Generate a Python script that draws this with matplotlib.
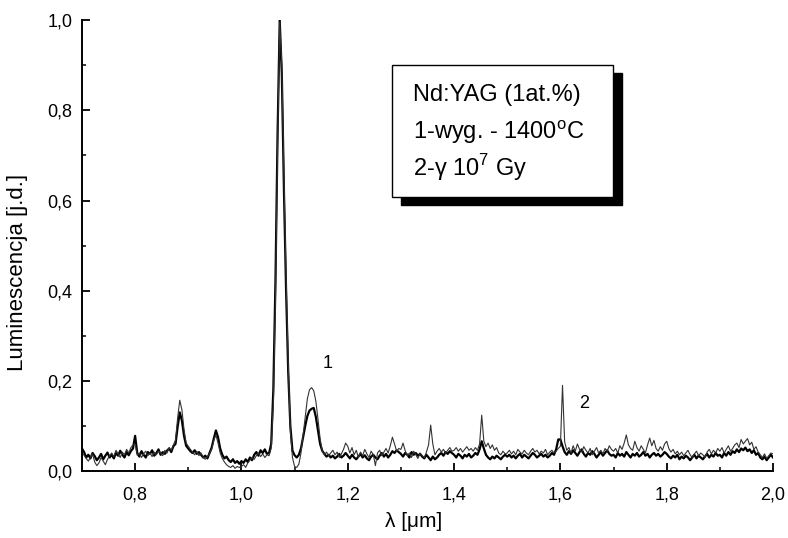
import numpy as np
import matplotlib
matplotlib.use("Agg")
import matplotlib.pyplot as plt
from matplotlib.patches import Rectangle
from matplotlib.ticker import MultipleLocator, FuncFormatter

plt.rcParams['font.family'] = ['Liberation Sans', 'DejaVu Sans']
plt.rcParams['mathtext.fontset'] = 'custom'
plt.rcParams['mathtext.rm'] = 'Liberation Sans'

# wavelength grid, 0.70 .. 2.00 um, step 0.004 (326 points)
lam = np.linspace(0.7, 2.0, 326)

# curve - thicker dark line
gruba = [
    0.050, 0.042, 0.030, 0.036, 0.028, 0.040, 0.033, 0.024, 0.030, 0.038, 0.026, 0.034, 0.041,
    0.030, 0.036, 0.028, 0.040, 0.034, 0.045, 0.036, 0.030, 0.042, 0.035, 0.044, 0.050,
    0.078, 0.040, 0.032, 0.044, 0.036, 0.030, 0.042, 0.038, 0.046, 0.034, 0.040, 0.048, 0.036,
    0.042, 0.038, 0.045, 0.050, 0.042, 0.055, 0.060, 0.098, 0.130, 0.112, 0.078, 0.056,
    0.050, 0.044, 0.040, 0.046, 0.038, 0.042, 0.036, 0.030, 0.034, 0.028, 0.040, 0.052, 0.072,
    0.090, 0.075, 0.050, 0.036, 0.028, 0.032, 0.024, 0.020, 0.026, 0.018, 0.022, 0.016,
    0.022, 0.018, 0.026, 0.020, 0.030, 0.024, 0.036, 0.042, 0.034, 0.046, 0.040, 0.048, 0.038,
    0.040, 0.060, 0.180, 0.420, 0.750, 1.000, 0.880, 0.620, 0.400, 0.220, 0.100, 0.045,
    0.035, 0.030, 0.036, 0.050, 0.075, 0.100, 0.122, 0.134, 0.138, 0.140, 0.120, 0.090, 0.060,
    0.045, 0.038, 0.032, 0.036, 0.030, 0.034, 0.028, 0.032, 0.038, 0.030, 0.034, 0.040,
    0.034, 0.028, 0.036, 0.030, 0.026, 0.032, 0.038, 0.030, 0.035, 0.028, 0.024, 0.032, 0.036,
    0.030, 0.026, 0.034, 0.040, 0.032, 0.038, 0.030, 0.036, 0.044, 0.040, 0.046, 0.042,
    0.038, 0.032, 0.040, 0.036, 0.030, 0.042, 0.036, 0.040, 0.034, 0.038, 0.032, 0.028, 0.036,
    0.030, 0.024, 0.032, 0.026, 0.030, 0.036, 0.040, 0.034, 0.042, 0.038, 0.044, 0.040,
    0.036, 0.030, 0.038, 0.034, 0.028, 0.036, 0.032, 0.038, 0.030, 0.034, 0.040, 0.036, 0.048,
    0.066, 0.050, 0.036, 0.030, 0.026, 0.032, 0.028, 0.034, 0.030, 0.026, 0.032, 0.036,
    0.032, 0.036, 0.030, 0.034, 0.028, 0.034, 0.038, 0.030, 0.036, 0.032, 0.028, 0.034, 0.040,
    0.036, 0.030, 0.034, 0.038, 0.032, 0.036, 0.030, 0.034, 0.040, 0.036, 0.048, 0.070,
    0.070, 0.055, 0.042, 0.036, 0.044, 0.038, 0.046, 0.040, 0.034, 0.042, 0.048, 0.038, 0.032,
    0.040, 0.036, 0.044, 0.038, 0.030, 0.036, 0.042, 0.034, 0.040, 0.046, 0.038, 0.034,
    0.036, 0.030, 0.040, 0.034, 0.038, 0.032, 0.042, 0.036, 0.030, 0.038, 0.034, 0.040, 0.032,
    0.036, 0.042, 0.034, 0.038, 0.030, 0.036, 0.040, 0.034, 0.038, 0.032, 0.036, 0.042,
    0.038, 0.032, 0.028, 0.034, 0.030, 0.036, 0.026, 0.032, 0.028, 0.034, 0.030, 0.024, 0.030,
    0.036, 0.028, 0.034, 0.030, 0.026, 0.032, 0.038, 0.030, 0.036, 0.032, 0.040, 0.034,
    0.036, 0.030, 0.040, 0.034, 0.042, 0.036, 0.044, 0.040, 0.048, 0.042, 0.050, 0.046, 0.052,
    0.044, 0.048, 0.040, 0.046, 0.036, 0.040, 0.030, 0.026, 0.032, 0.024, 0.030, 0.036,
    0.030,
]

# second curve - thin line
cienka = [
    0.040, 0.035, 0.028, 0.022, 0.030, 0.038, 0.020, 0.012, 0.018, 0.030, 0.022, 0.014, 0.026,
    0.034, 0.040, 0.032, 0.046, 0.038, 0.030, 0.042, 0.036, 0.048, 0.040, 0.052, 0.058,
    0.060, 0.035, 0.040, 0.030, 0.038, 0.044, 0.034, 0.040, 0.032, 0.042, 0.036, 0.044, 0.040,
    0.034, 0.046, 0.040, 0.052, 0.046, 0.058, 0.068, 0.118, 0.157, 0.136, 0.092, 0.062,
    0.055, 0.048, 0.042, 0.036, 0.044, 0.034, 0.040, 0.030, 0.026, 0.032, 0.038, 0.048, 0.068,
    0.080, 0.062, 0.040, 0.028, 0.020, 0.014, 0.010, 0.008, 0.012, 0.006, 0.010, 0.008,
    0.010, 0.014, 0.008, 0.018, 0.024, 0.030, 0.026, 0.034, 0.040, 0.032, 0.038, 0.030, 0.036,
    0.034, 0.050, 0.150, 0.380, 0.720, 0.995, 0.900, 0.650, 0.430, 0.240, 0.090, 0.030,
    0.010, 0.008, 0.015, 0.040, 0.080, 0.120, 0.160, 0.180, 0.185, 0.178, 0.155, 0.115, 0.072,
    0.045, 0.036, 0.042, 0.034, 0.040, 0.046, 0.036, 0.042, 0.030, 0.038, 0.048, 0.062,
    0.055, 0.040, 0.052, 0.036, 0.046, 0.030, 0.042, 0.034, 0.048, 0.038, 0.030, 0.044, 0.036,
    0.012, 0.040, 0.046, 0.034, 0.042, 0.050, 0.040, 0.056, 0.075, 0.060, 0.044, 0.050,
    0.048, 0.062, 0.045, 0.034, 0.040, 0.030, 0.044, 0.036, 0.028, 0.040, 0.034, 0.030, 0.042,
    0.058, 0.102, 0.060, 0.036, 0.044, 0.050, 0.042, 0.048, 0.040, 0.046, 0.052, 0.044,
    0.046, 0.052, 0.044, 0.050, 0.042, 0.048, 0.054, 0.046, 0.050, 0.044, 0.052, 0.046, 0.060,
    0.124, 0.066, 0.054, 0.062, 0.050, 0.058, 0.046, 0.052, 0.040, 0.036, 0.044, 0.038,
    0.040, 0.046, 0.038, 0.044, 0.036, 0.048, 0.042, 0.038, 0.046, 0.040, 0.036, 0.044, 0.050,
    0.042, 0.046, 0.038, 0.044, 0.040, 0.048, 0.036, 0.042, 0.046, 0.040, 0.044, 0.050,
    0.055, 0.190, 0.065, 0.046, 0.052, 0.040, 0.056, 0.044, 0.060, 0.048, 0.042, 0.054, 0.046,
    0.040, 0.050, 0.036, 0.044, 0.052, 0.040, 0.046, 0.038, 0.050, 0.044, 0.056, 0.048,
    0.044, 0.050, 0.040, 0.056, 0.048, 0.062, 0.080, 0.058, 0.050, 0.046, 0.066, 0.052, 0.044,
    0.056, 0.048, 0.040, 0.058, 0.073, 0.056, 0.068, 0.050, 0.044, 0.054, 0.046, 0.060,
    0.066, 0.050, 0.042, 0.048, 0.038, 0.044, 0.036, 0.042, 0.034, 0.040, 0.046, 0.036, 0.030,
    0.038, 0.044, 0.034, 0.040, 0.036, 0.030, 0.042, 0.048, 0.038, 0.046, 0.040, 0.050,
    0.044, 0.052, 0.040, 0.048, 0.056, 0.044, 0.050, 0.058, 0.062, 0.052, 0.070, 0.060, 0.066,
    0.072, 0.058, 0.064, 0.048, 0.054, 0.042, 0.036, 0.030, 0.038, 0.028, 0.034, 0.040,
    0.038,
]

legenda = ['Nd:YAG (1at.%)', r'1-wyg. - 1400$^{\rm o}$C', r'2-γ 10$^{7}$ Gy']

fig = plt.figure(figsize=(7.88, 5.38), dpi=100)
ax = fig.add_axes([0.104, 0.1245, 0.877, 0.838])

ax.plot(lam, gruba, color='black', lw=1.6)
ax.plot(lam, cienka, color='#333333', lw=0.8)

ax.set_xlim(0.7, 2.0)
ax.set_ylim(0, 1.0)
for s in ['top', 'right']:
    ax.spines[s].set_visible(False)
for s in ['left', 'bottom']:
    ax.spines[s].set_linewidth(1.4)

ax.xaxis.set_major_locator(MultipleLocator(0.2))
ax.xaxis.set_minor_locator(MultipleLocator(0.1))
ax.yaxis.set_major_locator(MultipleLocator(0.2))
ax.yaxis.set_minor_locator(MultipleLocator(0.1))
fmt = FuncFormatter(lambda v, p: f'{v:.1f}'.replace('.', ','))
ax.xaxis.set_major_formatter(fmt)
ax.yaxis.set_major_formatter(fmt)
ax.tick_params(which='major', direction='in', length=6, width=1.3, labelsize=13)
ax.tick_params(which='minor', direction='in', length=3, width=1.1)
ax.tick_params(axis='x', pad=11)
ax.tick_params(axis='y', pad=7)

ax.set_xlabel('λ [μm]', fontsize=15)
ax.set_ylabel('Luminescencja [j.d.]', fontsize=16)
ax.xaxis.set_label_coords(0.48, -0.09)
ax.yaxis.set_label_coords(-0.078, 0.44)

# numery krzywych
ax.text(1.152, 0.228, '1', fontsize=13)
ax.text(1.636, 0.14, '2', fontsize=13)

# ramka z opisem + cien
bx, by, bw, bh = 0.4486, 0.6075, 0.3195, 0.2925
ax.add_patch(Rectangle((bx + 0.013, by - 0.018), bw, bh, transform=ax.transAxes,
                       facecolor='black', edgecolor='black', zorder=5))
ax.add_patch(Rectangle((bx, by), bw, bh, transform=ax.transAxes,
                       facecolor='white', edgecolor='black', lw=1.0, zorder=6))
for yy, t in zip([0.834, 0.752, 0.674], legenda):
    ax.text(0.479, yy, t, transform=ax.transAxes, fontsize=17, va='center', zorder=7)

fig.savefig('out.png', dpi=100)
